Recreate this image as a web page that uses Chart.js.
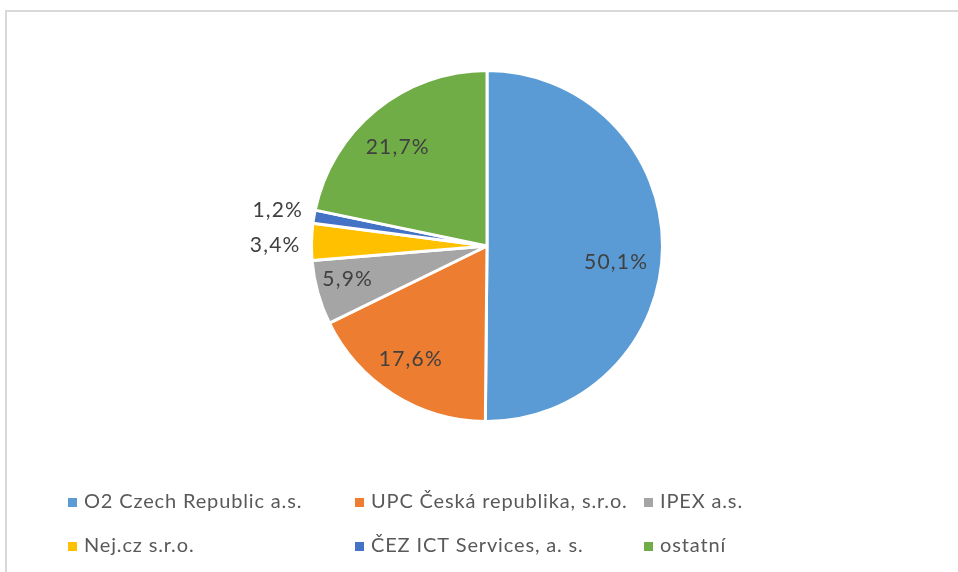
<!DOCTYPE html>
<html>
<head>
<meta charset="utf-8">
<script src="https://cdn.jsdelivr.net/npm/chart.js@4/dist/chart.umd.min.js"></script>
<style>
  html, body { margin: 0; padding: 0; background: #ffffff; }
  #wrap { width: 958px; height: 572px; position: relative; }
</style>
</head>
<body>
<div id="wrap"><canvas id="c" width="958" height="572"></canvas></div>
<script>
// ---- data ----
const categories = [
  "O2 Czech Republic a.s.",
  "UPC Česká republika, s.r.o.",
  "IPEX a.s.",
  "Nej.cz s.r.o.",
  "ČEZ ICT Services, a. s.",
  "ostatní"
];
const shares = [50.1, 17.6, 5.9, 3.4, 1.2, 21.7];
const valueLabels = ["50,1%", "17,6%", "5,9%", "3,4%", "1,2%", "21,7%"];

// ---- styles ----
const sliceColors = ["#5B9BD5", "#ED7D31", "#A5A5A5", "#FFC000", "#4472C4", "#70AD47"];
const labelInside = [true, true, true, false, false, true];
const labelNudge = [[-6, 16], [-4, -1], [-9, -3], [1, 4], [1, -4], [-4, 6]];
const legendCols = [68, 355, 644];
const legendRows = [502, 546];
const FONT = "Lato, 'Open Sans', sans-serif";

function setSpacing(ctx, px) {
  if ('letterSpacing' in ctx) ctx.letterSpacing = px + 'px';
}

const framePlugin = {
  id: 'frame',
  beforeDraw(chart) {
    const ctx = chart.ctx;
    ctx.save();
    ctx.fillStyle = '#ffffff';
    ctx.fillRect(0, 0, chart.width, chart.height);
    ctx.strokeStyle = '#d9d9d9';
    ctx.lineWidth = 2;
    ctx.strokeRect(6, 11, 1200, 1200);
    ctx.restore();
  }
};

const labelPlugin = {
  id: 'sliceLabels',
  afterDatasetsDraw(chart) {
    const ctx = chart.ctx;
    const meta = chart.getDatasetMeta(0);
    ctx.save();
    ctx.font = "21px " + FONT;
    setSpacing(ctx, 1.2);
    ctx.fillStyle = '#404040';
    ctx.textBaseline = 'middle';
    meta.data.forEach((arc, i) => {
      const p = arc.getProps(['x', 'y', 'startAngle', 'endAngle', 'outerRadius'], true);
      const mid = (p.startAngle + p.endAngle) / 2;
      const dx = Math.cos(mid), dy = Math.sin(mid);
      let x, y;
      if (labelInside[i]) {
        const r = p.outerRadius * 0.77;
        x = p.x + dx * r; y = p.y + dy * r;
        ctx.textAlign = 'center';
      } else {
        const r = p.outerRadius + 12;
        x = p.x + dx * r; y = p.y + dy * r;
        ctx.textAlign = dx < 0 ? 'right' : 'left';
      }
      x += labelNudge[i][0]; y += labelNudge[i][1];
      ctx.fillText(valueLabels[i], x, y);
    });
    ctx.restore();
  }
};

const legendPlugin = {
  id: 'gridLegend',
  afterDraw(chart) {
    const ctx = chart.ctx;
    ctx.save();
    ctx.font = "20px " + FONT;
    setSpacing(ctx, 0.85);
    ctx.textBaseline = 'middle';
    ctx.textAlign = 'left';
    chart.data.labels.forEach((lab, i) => {
      const col = i % 3, row = Math.floor(i / 3);
      const x = legendCols[col], y = legendRows[row];
      ctx.fillStyle = chart.data.datasets[0].backgroundColor[i];
      ctx.fillRect(x, y - 4, 9, 9);
      ctx.fillStyle = '#595959';
      ctx.fillText(lab, x + 16, y);
    });
    ctx.restore();
  }
};

new Chart(document.getElementById('c'), {
  type: 'pie',
  data: {
    labels: categories,
    datasets: [{
      data: shares,
      backgroundColor: sliceColors,
      borderColor: '#ffffff',
      borderWidth: 3
    }]
  },
  options: {
    responsive: false,
    animation: false,
    layout: { padding: { top: 69, bottom: 149, left: 100, right: 84 } },
    plugins: {
      legend: { display: false },
      tooltip: { enabled: false }
    }
  },
  plugins: [framePlugin, labelPlugin, legendPlugin]
});
</script>
</body>
</html>
